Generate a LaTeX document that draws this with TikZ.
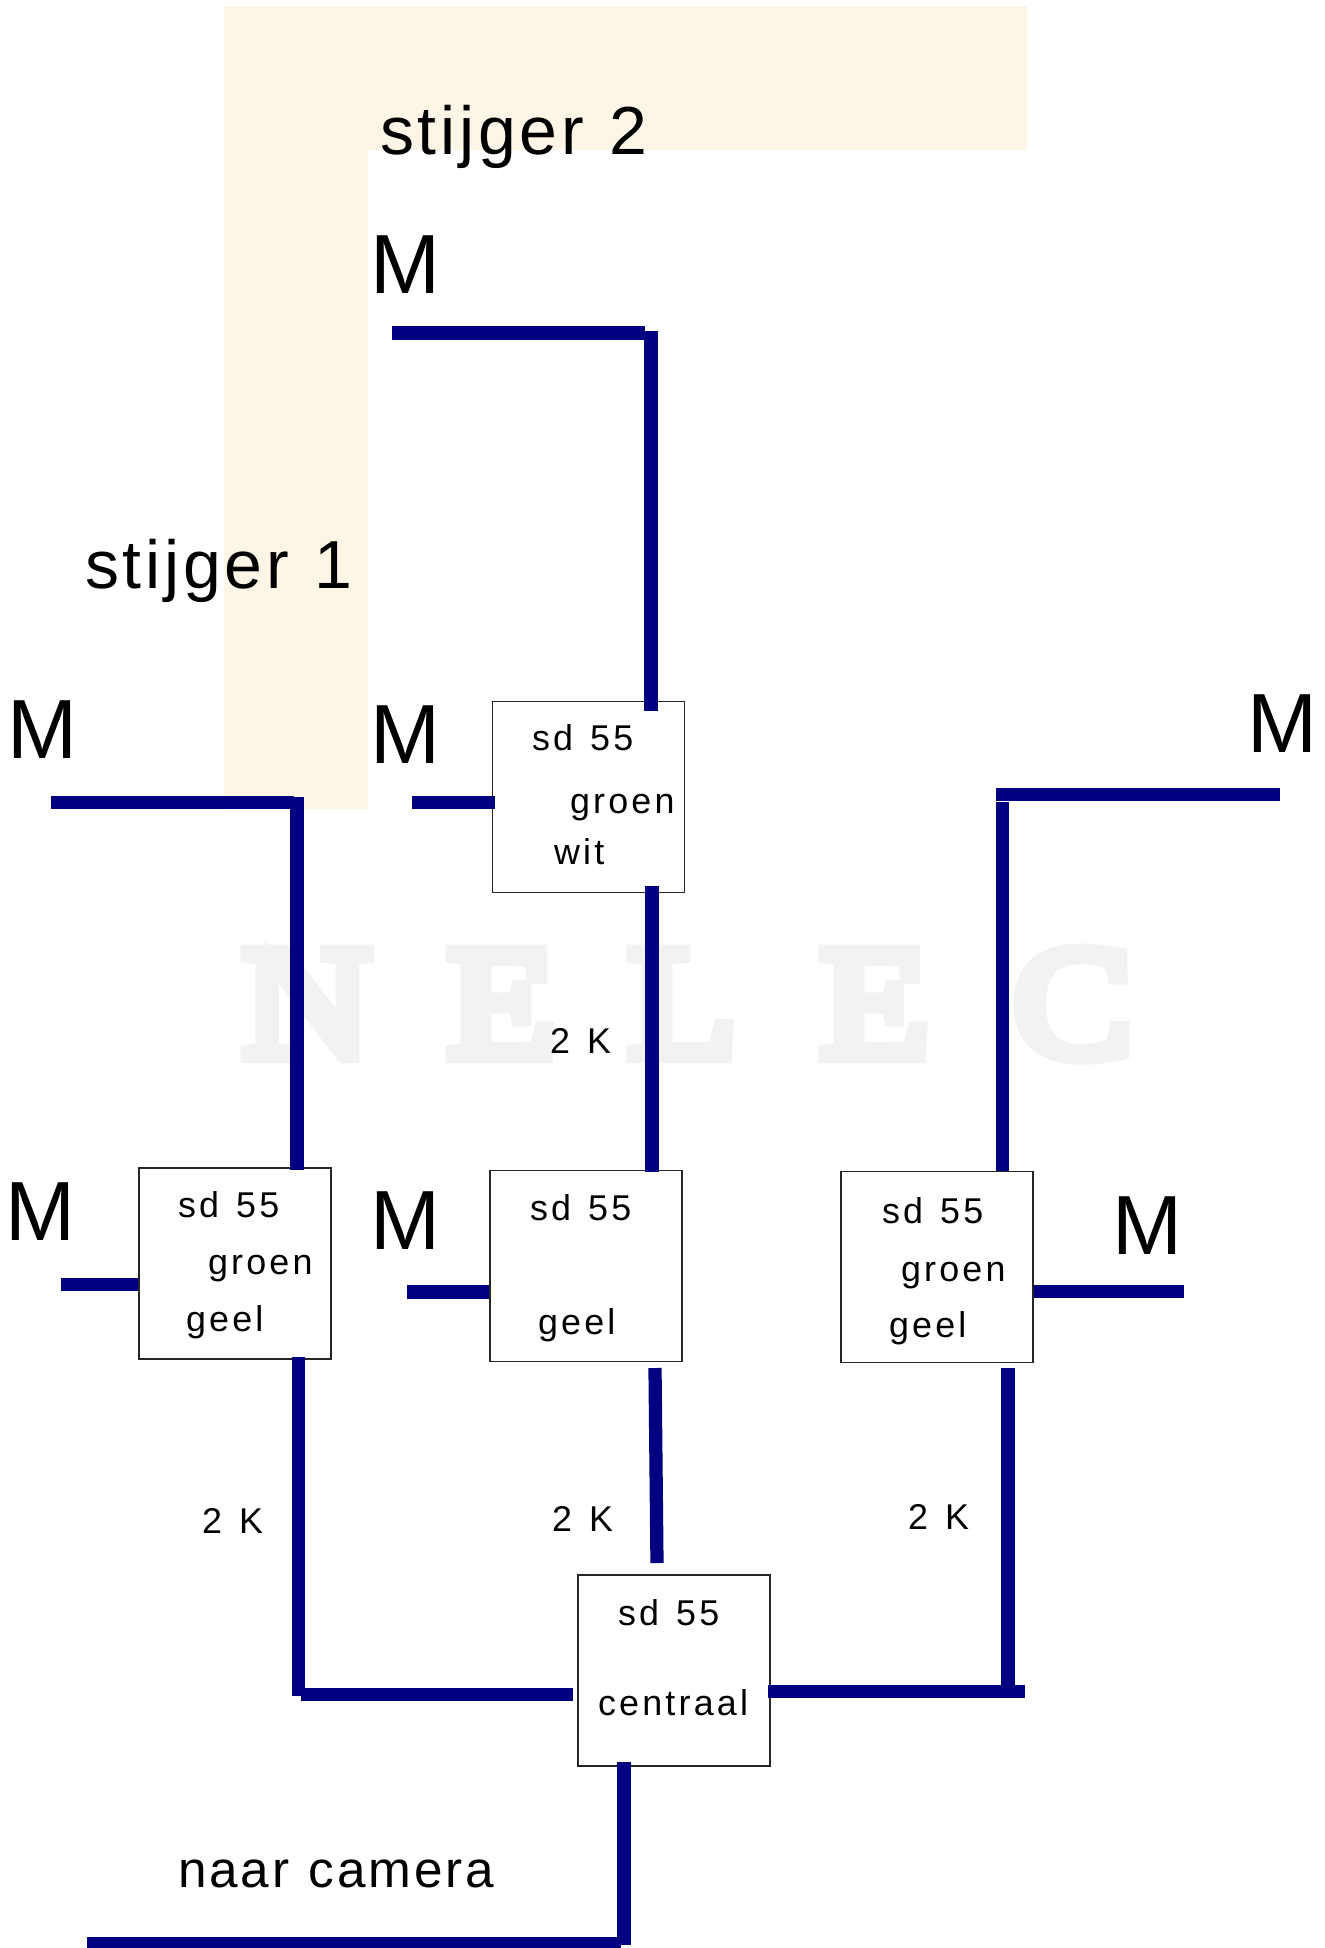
\documentclass[tikz,border=0pt]{standalone}
\usepackage{fontspec}
\setmainfont{Liberation Sans}
\newfontfamily\bigfont[LetterSpace=5.5, WordSpace=1.15]{Liberation Sans}
\newfontfamily\smallfont[LetterSpace=9, WordSpace=1.3]{Liberation Sans}
\newfontfamily\nelecfont[FakeBold=9, FakeStretch=1.12]{Liberation Serif}
\definecolor{wirecol}{RGB}{0,0,128}
\definecolor{shaftcol}{RGB}{253,245,230}
\definecolor{markcol}{RGB}{242,242,242}
\tikzset{
	wire/.style={line width=0.265cm, color=wirecol},
	sdbox/.style={draw=black!85, line width=0.75pt, minimum width=3.84cm, minimum height=3.82cm, inner sep=0pt},
	txt/.style={anchor=base west, inner sep=0pt, outer sep=0pt},
	motor/.style={txt, font=\fontsize{47.8}{50}\selectfont},
	shaft/.style={txt, font=\bigfont\fontsize{38.7}{40}\selectfont},
	small/.style={txt, font=\smallfont\fontsize{20.4}{22}\selectfont},
	wmark/.style={anchor=base west, inner sep=0pt, text=markcol, font=\fontsize{90.5}{96}\selectfont\nelecfont},
}

\begin{document}
\begin{tikzpicture}[x=0.02cm, y=-0.02cm]
	\useasboundingbox (0,0) rectangle (1325,1948);

	% stijgers
	\fill [shaftcol] (224,6) -- (1027,6) -- (1027,150) -- (368,150) -- (368,809) -- (224,809) -- cycle;

	% watermerk
	\foreach \letter/\xpos in {N/242, E/447, L/628, E/820, C/1013}
		\node (mark\xpos) [wmark] at (\xpos,1056) {\letter};

	\node (boxa) [sdbox] at (235,1263.4) {};
	\node (boxb) [sdbox] at (588.2,797.2) {};
	\node (boxc) [sdbox] at (586,1266) {};
	\node (boxd) [sdbox] at (937,1267) {};
	\node (boxe) [sdbox] at (674,1670.5) {};

	\coordinate (topl) at (392,333);
	\coordinate (topr) at (645,333);
	\coordinate (topv) at (651,331);
	\coordinate (leftl) at (51,802.5);
	\coordinate (leftr) at (294,802.5);
	\coordinate (leftv) at (297,797);
	\coordinate (rightl) at (996,794.5);
	\coordinate (rightr) at (1280,794.5);
	\coordinate (rightv) at (1002.5,802);
	\coordinate (stubb) at (412,802.5);
	\coordinate (stuba) at (61,1284.5);
	\coordinate (stubc) at (407,1292);
	\coordinate (stubd) at (1183.5,1291.5);
	\coordinate (downa) at (298.5,1696);
	\coordinate (joina) at (301,1694.5);
	\coordinate (downb) at (652,885);
	\coordinate (slant) at (655,1368);
	\coordinate (slantb) at (657,1563);
	\coordinate (downd) at (1008,1368);
	\coordinate (joind) at (1008,1685);
	\coordinate (joine) at (1025,1691.5);
	\coordinate (camv) at (624,1945);
	\coordinate (caml) at (87,1943.5);
	\coordinate (camr) at (620.7,1943.5);

	% leidingen
	\draw [wire] (topl) -- (topr);
	\draw [wire] (topv) -- ([yshift=-0.2cm]topv |- boxb.north);
	\draw [wire] (leftl) -- (leftr);
	\draw [wire] (leftv) -- ([yshift=-0.06cm]leftv |- boxa.north);
	\draw [wire] (rightl) -- (rightr);
	\draw [wire] (rightv) -- (rightv |- boxd.north);
	\draw [wire] (stubb) -- ([xshift=0.07cm]boxb.west |- stubb);
	\draw [wire] (stuba) -- (stuba -| boxa.west);
	\draw [wire] (stubc) -- (stubc -| boxc.west);
	\draw [wire] (stubd) -- (stubd -| boxd.east);
	\draw [wire] ([yshift=0.06cm]downa |- boxa.south) -- (downa);
	\draw [wire] (joina) -- ([xshift=-0.09cm]boxe.west |- joina);
	\draw [wire] ([yshift=0.14cm]downb |- boxb.south) -- ([yshift=-0.04cm]downb |- boxc.north);
	\draw [wire] (slant) -- (slantb);
	\draw [wire] (downd) -- (joind);
	\draw [wire] ([xshift=-0.06cm]boxe.east |- joine) -- (joine);
	\draw [wire] ([yshift=0.1cm]camv |- boxe.south) -- (camv);
	\draw [wire] (caml) -- (camr);

	% teksten
	\node (st2) [shaft] at (380,154) {stijger 2};
	\node (st1) [shaft] at (85,588) {stijger 1};
	\node (cam) [shaft, font=\bigfont\fontsize{29.2}{31}\selectfont] at (178,1887) {naar camera};

	\node (mtop) [motor] at (370,293) {M};
	\node (mb) [motor] at (370,763) {M};
	\node (ml) [motor] at (8,758.5) {M};
	\node (mr) [motor] at (1247,752.5) {M};
	\node (ma) [motor] at (6,1240) {M};
	\node (mc) [motor] at (370,1249) {M};
	\node (md) [motor] at (1112,1254) {M};

	\node (asd) [small] at (178,1217.7) {sd 55};
	\node (agr) [small] at (208,1274) {groen};
	\node (age) [small] at (186,1331) {geel};
	\node (ak) [small] at (202,1533) {2 K};

	\node (bsd) [small] at (532,750.7) {sd 55};
	\node (bgr) [small] at (570,813) {groen};
	\node (bwi) [small] at (554,864) {wit};
	\node (bk) [small] at (550,1053) {2 K};

	\node (csd) [small] at (530,1220) {sd 55};
	\node (cge) [small] at (538,1334) {geel};
	\node (ck) [small] at (552,1531.7) {2 K};

	\node (dsd) [small] at (882,1223) {sd 55};
	\node (dgr) [small] at (901,1281) {groen};
	\node (dge) [small] at (889,1337) {geel};
	\node (dk) [small] at (908,1529) {2 K};

	\node (esd) [small] at (618,1625) {sd 55};
	\node (ece) [small] at (598,1715) {centraal};
\end{tikzpicture}
\end{document}
